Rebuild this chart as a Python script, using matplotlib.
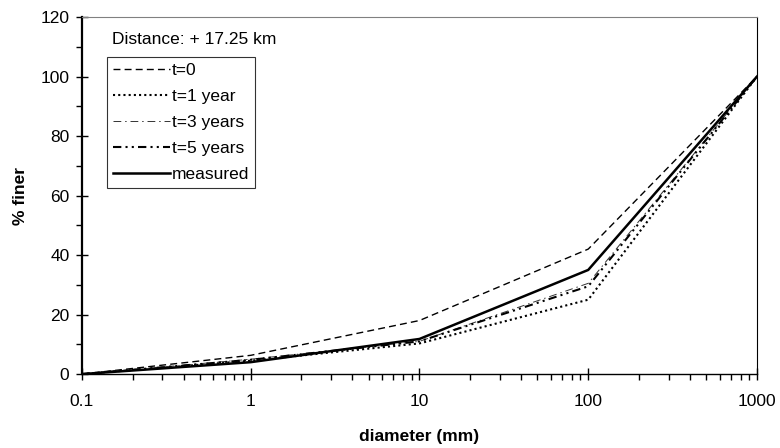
import matplotlib
matplotlib.use("Agg")
import matplotlib.pyplot as plt
from matplotlib.ticker import FixedLocator, NullFormatter

plt.rcParams['font.family'] = ['Liberation Sans', 'DejaVu Sans']

# 数据：粒径 (mm) 与各时刻的通过百分比
diameter = [0.1, 1, 10, 100, 1000]
t0 = [0, 6.3, 18, 42, 100]
t1 = [0, 4.5, 10.3, 25, 100]
t3 = [0, 5, 11, 30.5, 100]
t5 = [0, 4.8, 11, 29.5, 100]
measured = [0, 4, 11.8, 35, 100]

labels = ["t=0", "t=1 year", "t=3 years", "t=5 years", "measured"]
x_ticks = [0.1, 1, 10, 100, 1000]
x_ticklabels = ["0.1", "1", "10", "100", "1000"]
y_ticks = [0, 20, 40, 60, 80, 100, 120]

FS = 12.5

fig = plt.figure(figsize=(7.8, 4.48), dpi=100)
ax = fig.add_axes([0.105, 0.165, 0.8655, 0.797])

ax.plot(diameter, t0, color='black', lw=1.0, dashes=(5, 3), label=labels[0])
ax.plot(diameter, t1, color='black', lw=1.5, dashes=(1, 1.5), label=labels[1])
ax.plot(diameter, t3, color='#333333', lw=0.7, dashes=(8, 4, 1.5, 4), label=labels[2])
ax.plot(diameter, t5, color='black', lw=1.5, dashes=(4, 2, 1, 2, 1, 2), label=labels[3])
ax.plot(diameter, measured, color='black', lw=1.8, label=labels[4])

ax.set_xscale('log')
ax.set_xlim(0.1, 1000)
ax.set_ylim(0, 120)

ax.xaxis.set_major_locator(FixedLocator(x_ticks))
ax.set_xticklabels(x_ticklabels)
minors = [m * 10.0 ** e for e in range(-1, 3) for m in range(2, 10)]
ax.xaxis.set_minor_locator(FixedLocator(minors))
ax.xaxis.set_minor_formatter(NullFormatter())
ax.set_yticks(y_ticks)
ax.yaxis.set_minor_locator(FixedLocator([10, 30, 50, 70, 90, 110]))

ax.tick_params(axis='both', which='major', direction='inout', length=8, width=1,
               labelsize=FS)
ax.tick_params(axis='x', which='major', pad=10)
ax.tick_params(axis='y', which='major', pad=5)
ax.tick_params(axis='both', which='minor', direction='out', length=4, width=1)
ax.tick_params(top=False, right=False, which='both')

ax.spines['left'].set_linewidth(1.6)
ax.spines['bottom'].set_linewidth(1.0)
ax.spines['top'].set_color('#808080')
ax.spines['top'].set_linewidth(0.8)
ax.spines['right'].set_linewidth(0.8)

ax.set_xlabel("diameter (mm)", fontsize=FS, fontweight='bold', labelpad=15)
ax.set_ylabel("% finer", fontsize=FS, fontweight='bold', labelpad=9)

ax.text(0.044, 0.938, "Distance: + 17.25 km", transform=ax.transAxes,
        fontsize=FS, va='center', ha='left')

leg = ax.legend(loc='upper left', bbox_to_anchor=(0.037, 0.888), fontsize=FS,
                handlelength=3.3, handletextpad=0.1, labelspacing=0.62,
                borderpad=0.35, borderaxespad=0, fancybox=False, frameon=True)
leg.get_frame().set_edgecolor('black')
leg.get_frame().set_linewidth(0.8)

fig.savefig("out.png", dpi=100)
